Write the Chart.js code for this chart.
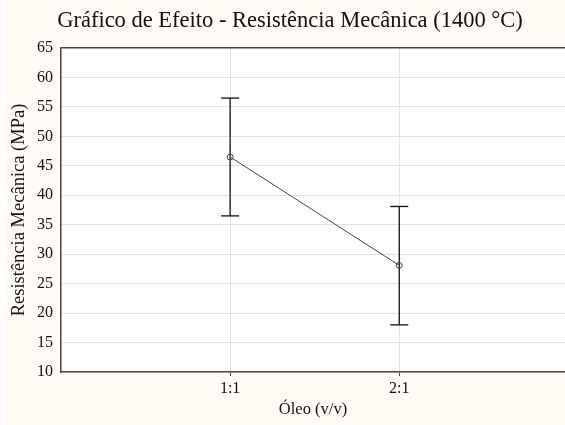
<!DOCTYPE html>
<html>
<head>
<meta charset="utf-8">
<script src="https://cdn.jsdelivr.net/npm/chart.js@4.4.1/dist/chart.umd.min.js"></script>
<style>
  html, body { margin: 0; padding: 0; background: #ffffff; overflow: hidden; }
  #wrap { position: relative; width: 565px; height: 425px; }
</style>
</head>
<body>
<div id="wrap"><canvas id="c" width="565" height="425"></canvas></div>
<script>
// Oil ratio levels and mechanical strength (MPa) at 1400 °C
const categories = ['1:1', '2:1'];
const means = [46.5, 28.1];
const lower = [36.5, 18.0];
const upper = [56.5, 38.1];
const yTicks = [10, 15, 20, 25, 30, 35, 40, 45, 50, 55, 60, 65];

const serif = '"Liberation Serif", "Times New Roman", serif';
const cream = '#fffaf4';

// Background: cream page, narrow white strip at the left, white plot area
const backdrop = {
  id: 'backdrop',
  beforeDraw(chart) {
    const { ctx, chartArea: a, width, height } = chart;
    ctx.save();
    ctx.fillStyle = '#ffffff';
    ctx.fillRect(0, 0, width, height);
    ctx.fillStyle = cream;
    ctx.fillRect(6, 0, width - 6, height);
    ctx.fillStyle = '#ffffff';
    ctx.fillRect(a.left, a.top, a.right - a.left, a.bottom - a.top);
    ctx.restore();
  }
};

// Chart heading
const heading = {
  id: 'heading',
  afterDraw(chart) {
    const { ctx } = chart;
    ctx.save();
    ctx.font = '22.5px ' + serif;
    ctx.fillStyle = '#111';
    ctx.textAlign = 'center';
    ctx.textBaseline = 'middle';
    ctx.fillText('Gráfico de Efeito - Resistência Mecânica (1400 °C)', 290, 21);
    ctx.restore();
  }
};

const meanData = categories.map((c, i) => ({ x: i + 1, y: means[i] }));
const errorSets = categories.map((c, i) => ({
  type: 'line',
  label: 'erro ' + c,
  data: [{ x: i + 1, y: lower[i] }, { x: i + 1, y: upper[i] }],
  borderColor: '#111',
  borderWidth: 1.3,
  pointStyle: 'line',
  pointRadius: 9,
  pointBorderColor: '#111',
  pointBorderWidth: 1.3,
  order: 2
}));

new Chart(document.getElementById('c'), {
  type: 'line',
  data: {
    datasets: [
      {
        label: 'Média',
        data: meanData,
        borderColor: '#444',
        borderWidth: 1,
        pointRadius: 3,
        pointBorderColor: '#444',
        pointBorderWidth: 1,
        pointBackgroundColor: 'rgba(255,255,255,0)',
        order: 1
      },
      ...errorSets
    ]
  },
  options: {
    responsive: false,
    animation: false,
    layout: { autoPadding: false, padding: { top: 48, left: 0, right: 0, bottom: 0 } },
    plugins: { legend: { display: false }, tooltip: { enabled: false } },
    scales: {
      x: {
        type: 'linear',
        min: 0,
        max: 2.98,
        afterBuildTicks(scale) {
          scale.ticks = categories.map((c, i) => ({ value: i + 1 }));
        },
        afterFit(scale) { scale.height = 53; },
        ticks: {
          callback: (v) => categories[v - 1] ?? '',
          color: '#111',
          font: { family: serif, size: 16 },
          padding: 3,
          maxRotation: 0
        },
        grid: { color: '#e2e2e2', lineWidth: 1, tickLength: 4, tickColor: '#444' },
        border: { color: '#444', width: 1.5 },
        title: {
          display: true,
          text: 'Óleo (v/v)',
          color: '#111',
          font: { family: serif, size: 16.5 },
          padding: { top: 0, bottom: 5 }
        }
      },
      y: {
        type: 'linear',
        min: 10,
        max: 65,
        afterBuildTicks(scale) {
          scale.ticks = yTicks.map(v => ({ value: v }));
        },
        afterFit(scale) { scale.width = 61; },
        ticks: {
          color: '#111',
          font: { family: serif, size: 16 },
          padding: 8
        },
        grid: {
          drawTicks: false,
          color: (ctx) => ctx.tick && ctx.tick.value === 65 ? '#444' : '#e2e2e2',
          lineWidth: (ctx) => ctx.tick && ctx.tick.value === 65 ? 1.5 : 1
        },
        border: { color: '#444', width: 1.5 },
        title: {
          display: true,
          text: 'Resistência Mecânica (MPa)',
          color: '#111',
          font: { family: serif, size: 18.5 },
          padding: { top: 8, bottom: 0 }
        }
      }
    }
  },
  plugins: [backdrop, heading]
});
</script>
</body>
</html>
